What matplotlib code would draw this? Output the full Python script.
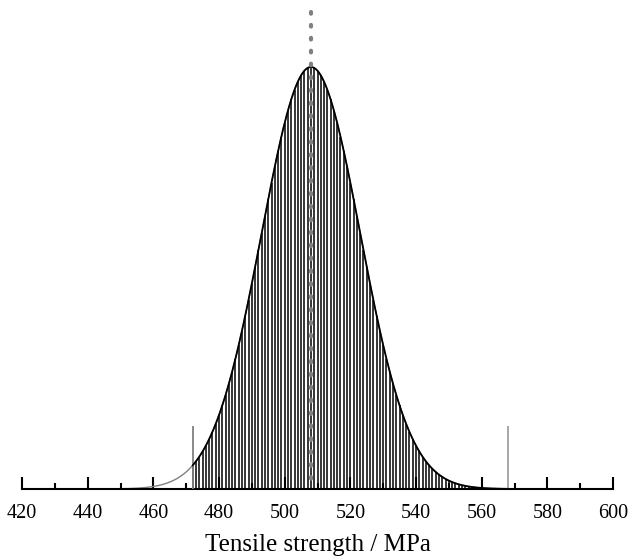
import numpy as np
import matplotlib
matplotlib.use("Agg")
import matplotlib.pyplot as plt

# distribution parameters
mean_val = 508.0
sd_val = 15.0
lower_limit = 472.0
upper_limit = 568.0
x_ticks_major = [420, 440, 460, 480, 500, 520, 540, 560, 580, 600]
x_label = "Tensile strength / MPa"

def pdf(x):
    return np.exp(-0.5 * ((x - mean_val) / sd_val) ** 2) / (sd_val * np.sqrt(2 * np.pi))

peak = pdf(mean_val)

fig = plt.figure(figsize=(6.28, 5.56), dpi=100)
ax = fig.add_axes([22 / 628, (556 - 489) / 556, (613 - 22) / 628, 489 / 556])

xs_full = np.linspace(440, 590, 800)
ax.plot(xs_full, pdf(xs_full), color="#808080", lw=1.0, zorder=2)

hatch_x = np.arange(lower_limit, upper_limit + 0.5, 1.0)
ax.vlines(hatch_x, 0, pdf(hatch_x), colors="black", lw=1.1, zorder=3)

xs_in = np.linspace(lower_limit, upper_limit, 600)
ax.plot(xs_in, pdf(xs_in), color="black", lw=1.3, zorder=4)

lim_h = peak * 63 / 422
ax.vlines([lower_limit, upper_limit], 0, lim_h, colors=["#808080", "#a0a0a0"], lw=1.3, zorder=3)

ax.plot([mean_val, mean_val], [peak * 477 / 422, 0], color="#808080", lw=3.0,
        linestyle=(0, (0.4, 2.7)), dash_capstyle="round", zorder=5)

ax.set_xlim(420, 600)
ax.set_ylim(0, peak * 489 / 422)
for s in ["top", "left", "right"]:
    ax.spines[s].set_visible(False)
ax.spines["bottom"].set_linewidth(1.5)
ax.set_yticks([])
ax.set_xticks(x_ticks_major)
ax.set_xticks(np.arange(430, 600, 20), minor=True)
ax.tick_params(axis="x", which="major", direction="in", length=9, width=1.5, pad=11,
               labelsize=14.5, labelfontfamily="Liberation Serif")
ax.tick_params(axis="x", which="minor", direction="in", length=4.5, width=1.5)
ax.set_xlabel(x_label, fontsize=18, family="Liberation Serif", labelpad=8)
ax.patch.set_alpha(0)

fig.savefig("out.png", dpi=100)
